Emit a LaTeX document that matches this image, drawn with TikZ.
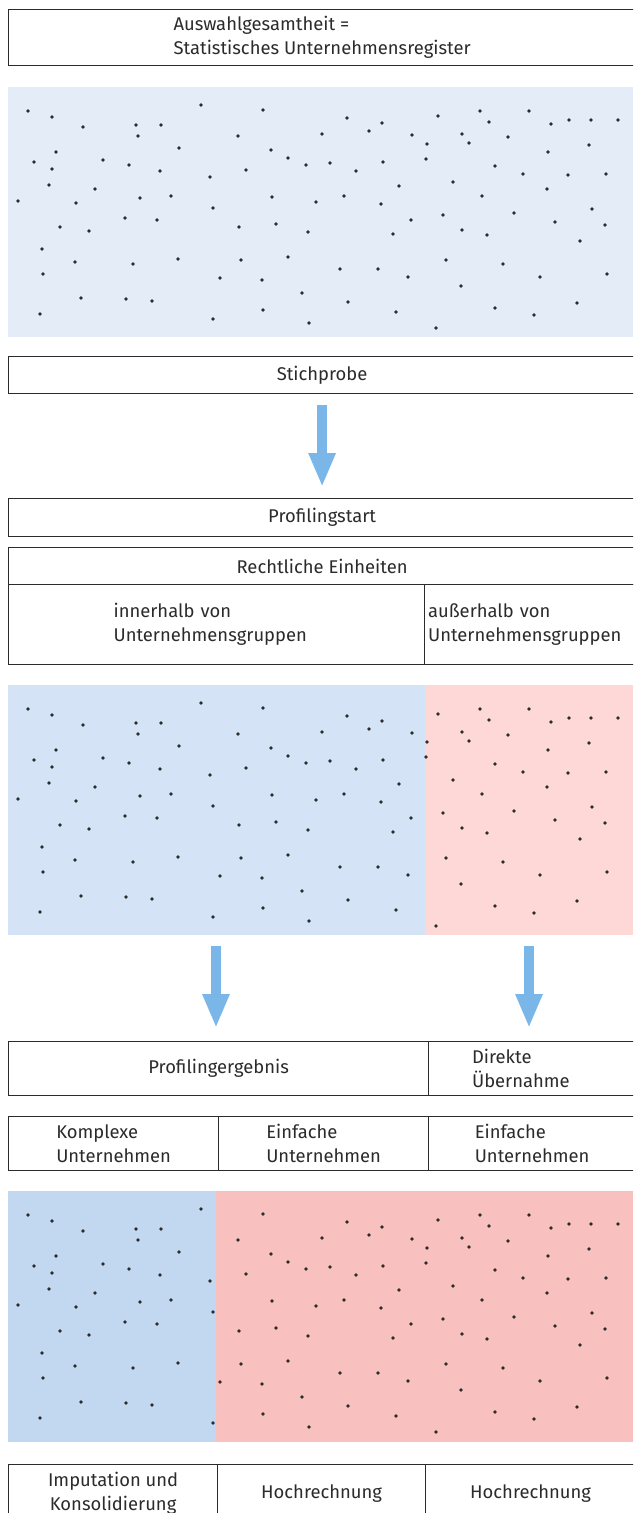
\documentclass[tikz,border=0pt]{standalone}
\usepackage{fontspec}
\setmainfont{Fira Sans}
\usetikzlibrary{arrows.meta}
\definecolor{inkgray}{HTML}{2B2B2B}
\definecolor{arrowblue}{HTML}{7AB6E7}
\definecolor{paleblue}{HTML}{E4ECF7}
\definecolor{midblue}{HTML}{D4E3F5}
\definecolor{midpink}{HTML}{FDD8D6}
\definecolor{deepblue}{HTML}{C2D8F1}
\definecolor{deeppink}{HTML}{F8C1BF}
% dot pattern, x and offset below the top of a field
\newcommand{\pointlist}{28/24, 52/30, 83/40, 136/38, 161/38, 138/49, 201/18, 263/23, 238/49, 56/65,
34/75, 52/82, 103/73, 129/78, 160/84, 179/61, 210/90, 246/83, 271/63, 288/71, 306/78, 49/98,
95/102, 18/114, 76/116, 140/111, 171/109, 213/121, 272/110, 316/115, 125/131, 157/133, 60/140,
89/144, 239/140, 276/137, 308/145, 42/162, 75/175, 133/177, 178/172, 241/173, 288/170, 43/187,
220/191, 262/193, 302/206, 81/211, 126/212, 152/214, 40/227, 263/223, 213/232, 309/236,
347/31, 382/36, 322/47, 369/44, 438/29, 480/24, 529/24, 489/35, 551/37, 569/33, 591/33, 618/33,
412/48, 427/57, 462/47, 469/56, 508/50, 589/58, 548/65, 330/76, 356/84, 383/75, 426/72, 495/79,
523/87, 568/88, 606/87, 399/99, 453/95, 547/102, 344/109, 381/117, 482/109, 592/122, 514/126,
555/135, 605/138, 411/133, 443/128, 393/147, 462/143, 487/148, 580/154, 446/173, 503/177,
340/182, 378/182, 408/190, 461/199, 540/190, 607/187, 348/215, 396/225, 495/221, 534/228,
577/216, 436/241}
\begin{document}
\begin{tikzpicture}[x=1pt,y=-1pt,
  cell/.style={draw=inkgray,line width=1.2pt,anchor=north west,inner sep=0pt,align=left,
    text=inkgray,font=\fontsize{18.4}{24}\selectfont},
  bigarrow/.style={draw=arrowblue,line width=10.5pt,-{Triangle[length=34pt,width=25pt]}},
  pt/.style={fill=inkgray}]
\useasboundingbox (0,0) rectangle (633,1513);
\clip (0,0) rectangle (633,1513);
\node[cell,minimum width=627,minimum height=56] (register) at (8,9) {Auswahlgesamtheit =\\Statistisches Unternehmensregister};
\fill[paleblue] (8,87) rectangle (633,337);
\node[cell,minimum width=627,minimum height=37] (sample) at (8,356) {Stichprobe};
\node[cell,minimum width=627,minimum height=38] (pstart) at (8,498) {Profilingstart};
\draw[bigarrow] ([yshift=-11]sample.south) -- ([yshift=11]pstart.north);
\node[cell,minimum width=627,minimum height=37] (legal) at (8,547) {Rechtliche Einheiten};
\node[cell,minimum width=416,minimum height=80,text width=206] (inside) at (8,584) {innerhalb von\\Unternehmensgruppen};
\node[cell,minimum width=211,minimum height=80,text width=204] (outside) at (424,584) {außerhalb von\\Unternehmensgruppen};
\fill[midblue] (8,685) rectangle (425,935);
\fill[midpink] (425,685) rectangle (633,935);
\node[cell,minimum width=420,minimum height=54] (result) at (8,1041) {Profilingergebnis};
\node[cell,minimum width=207,minimum height=54,text width=120] (direct) at (428,1041) {Direkte\\Übernahme};
\coordinate (inA) at (216,946);
\coordinate (inB) at (529,946);
\draw[bigarrow,shorten >=13pt] (inA) -- (inA |- result.north);
\draw[bigarrow,shorten >=13pt] (inB) -- (inB |- direct.north);
\node[cell,minimum width=210,minimum height=54] (complex) at (8,1116) {Komplexe\\Unternehmen};
\node[cell,minimum width=210,minimum height=54] (simpleA) at (218,1116) {Einfache\\Unternehmen};
\node[cell,minimum width=207,minimum height=54] (simpleB) at (428,1116) {Einfache\\Unternehmen};
\fill[deepblue] (8,1191) rectangle (216,1442);
\fill[deeppink] (216,1191) rectangle (633,1442);
\node[cell,minimum width=209,minimum height=58,align=center] (impute) at (8,1464) {Imputation und\\Konsolidierung};
\node[cell,minimum width=208,minimum height=58] (extrapA) at (217,1464) {Hochrechnung};
\node[cell,minimum width=210,minimum height=58] (extrapB) at (425,1464) {Hochrechnung};
% the same dots in all three fields
\foreach \top in {87,685,1191}
  \foreach \px/\py in \pointlist
    \fill[pt] (\px,\top+\py) circle (1.8);
\end{tikzpicture}
\end{document}
